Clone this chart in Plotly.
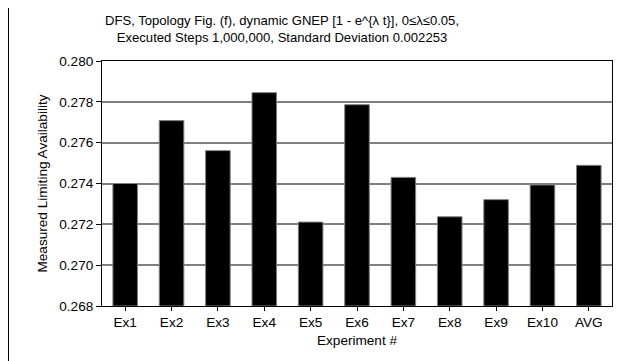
import plotly.graph_objects as go

categories = ["Ex1", "Ex2", "Ex3", "Ex4", "Ex5", "Ex6", "Ex7", "Ex8", "Ex9", "Ex10", "AVG"]
values = [0.27400, 0.27708, 0.27561, 0.27845, 0.27211, 0.27786, 0.27430, 0.27237, 0.27321, 0.27393, 0.27489]
y_ticks = [0.268, 0.270, 0.272, 0.274, 0.276, 0.278, 0.280]
y_tick_labels = ["%.3f" % v for v in y_ticks]
title_text = "DFS, Topology Fig. (f), dynamic GNEP [1 - e^{λ t}], 0≤λ≤0.05,<br>Executed Steps 1,000,000, Standard Deviation 0.002253"

# page has an 8px body margin, so the figure is sized to fit the 638x361 window
W, H = 630, 353
L, R, T, B = 94, 26, 53, 55
pw, ph = W - L - R, H - T - B
FS = 13.6

fig = go.Figure()
fig.add_trace(go.Bar(
    x=categories, y=[v - 0.268 for v in values],
    base=0.268,
    marker=dict(color="black", line=dict(color="#808080", width=1)),
    width=0.53,
))

def px_x(p):
    return (p - L) / pw

def px_y(p):
    return (H - B - p) / ph

# outer frame (left and right edges visible in the reference)
fig.add_shape(type="line", xref="paper", yref="paper",
              x0=px_x(0.5), x1=px_x(0.5), y0=px_y(0), y1=px_y(H),
              line=dict(color="black", width=1), layer="below")
fig.add_shape(type="line", xref="paper", yref="paper",
              x0=px_x(628.5), x1=px_x(628.5), y0=px_y(0), y1=px_y(H),
              line=dict(color="#808080", width=1), layer="below")

fig.update_layout(
    width=W, height=H,
    margin=dict(l=L, r=R, t=T, b=B, autoexpand=False),
    paper_bgcolor="white", plot_bgcolor="white",
    font=dict(family="Liberation Sans, Arial, sans-serif", size=FS, color="black"),
    title=dict(text=title_text, x=274 / W, xanchor="center", y=1 - 17 / H, yanchor="middle",
               font=dict(size=13.1)),
    showlegend=False,
)
fig.update_xaxes(
    type="category", showline=True, linecolor="black", linewidth=1, mirror=True,
    ticks="outside", ticklen=4, tickcolor="black", automargin=False,
    title=dict(text="Experiment #", standoff=6, font=dict(size=FS)),
    showgrid=False,
)
fig.update_yaxes(
    range=[0.268, 0.280], tickvals=y_ticks, ticktext=y_tick_labels,
    showline=True, linecolor="black", linewidth=1, mirror=True, automargin=False,
    ticks="outside", ticklen=5, tickcolor="black",
    showgrid=True, gridcolor="#808080", gridwidth=1.5,
    title=dict(text="Measured Limiting Availability", standoff=8, font=dict(size=FS)),
    zeroline=False,
)
fig.write_html("out.html")
